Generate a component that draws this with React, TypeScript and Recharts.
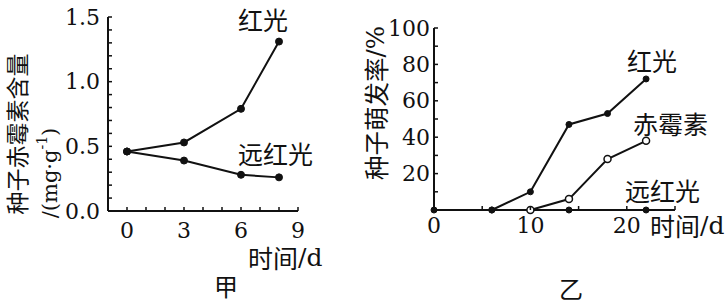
import React from "react";
import { LineChart, Line, XAxis, YAxis } from "recharts";

const NUM_FONT = '"DejaVu Serif", "Liberation Serif", serif';
const CJK_FONT = '"Noto Sans CJK SC", "Noto Sans", sans-serif';

// 甲: seed gibberellin content (mg/g) vs time (d)
const jiaRed = [
  { day: 0, v: 0.46 },
  { day: 3, v: 0.53 },
  { day: 6, v: 0.79 },
  { day: 8, v: 1.31 },
];
const jiaFarRed = [
  { day: 0, v: 0.46 },
  { day: 3, v: 0.39 },
  { day: 6, v: 0.28 },
  { day: 8, v: 0.26 },
];
const jiaXTicks = [0, 1, 2, 3, 4, 5, 6, 7, 8, 9];
const jiaXLabels = [0, 3, 6, 9];
const jiaYTicks = [0, 0.1, 0.2, 0.3, 0.4, 0.5, 0.6, 0.7, 0.8, 0.9, 1.0, 1.1, 1.2, 1.3, 1.4, 1.5];
const jiaYLabels = [0, 0.5, 1.0, 1.5];

// 乙: germination rate (%) vs time (d)
const yiRed = [
  { day: 6, v: 0 },
  { day: 10, v: 10 },
  { day: 14, v: 47 },
  { day: 18, v: 53 },
  { day: 22, v: 72 },
];
const yiGibberellin = [
  { day: 10, v: 0 },
  { day: 14, v: 6 },
  { day: 18, v: 28 },
  { day: 22, v: 38 },
];
const yiFarRed = [
  { day: 0, v: 0 },
  { day: 6, v: 0 },
  { day: 14, v: 0 },
  { day: 22, v: 0 },
];
const yiXTicks = [0, 5, 10, 15, 20, 25];
const yiXLabels = [0, 10, 20];
const yiYTicks = [0, 10, 20, 30, 40, 50, 60, 70, 80, 90, 100];
const yiYLabels = [20, 40, 60, 80, 100];

const near = (list: number[], v: number) => list.some((x) => Math.abs(x - v) < 1e-6);

function makeXTick(labels: number[], dy: number) {
  return (props: any) => {
    const { x, y, payload } = props;
    const v = payload.value;
    return (
      <g>
        <line x1={x} y1={y} x2={x} y2={y - 4} stroke="#111" strokeWidth={1.5} />
        {near(labels, v) && (
          <text x={x} y={y + dy} textAnchor="middle" dominantBaseline="central" fontFamily={NUM_FONT} fontSize={22} fill="#111">
            {v}
          </text>
        )}
      </g>
    );
  };
}

function makeYTick(labels: number[], gap: number, fmt: (v: number) => string) {
  return (props: any) => {
    const { x, y, payload } = props;
    const v = payload.value;
    return (
      <g>
        <line x1={x} y1={y} x2={x + 4} y2={y} stroke="#111" strokeWidth={1.5} />
        {near(labels, v) && (
          <text x={x - gap} y={y} textAnchor="end" dominantBaseline="central" fontFamily={NUM_FONT} fontSize={22} fill="#111">
            {fmt(v)}
          </text>
        )}
      </g>
    );
  };
}

const filledDot = (r: number) => ({ r, fill: "#111", stroke: "#111", strokeWidth: 1 });
const openDot = { r: 3.5, fill: "#fff", stroke: "#111", strokeWidth: 1.5 };
const axisLine = { stroke: "#111", strokeWidth: 2 };

function Cjk({ x, y, children, size = 25 }: { x: number; y: number; children: React.ReactNode; size?: number }) {
  return (
    <text x={x} y={y} dominantBaseline="central" fontFamily={CJK_FONT} fontSize={size} fill="#111">
      {children}
    </text>
  );
}

export default function App() {
  return (
    <div style={{ position: "fixed", left: 0, top: 0, width: 727, height: 303, background: "#fff" }}>
      <div style={{ position: "absolute", left: 0, top: 0 }}>
        <LineChart width={330} height={303} margin={{ top: 17, right: 32, bottom: 62, left: 0 }}>
          <XAxis
            type="number"
            dataKey="day"
            domain={[-1, 9]}
            ticks={jiaXTicks}
            allowDataOverflow
            height={30}
            tickSize={0}
            tickMargin={0}
            axisLine={axisLine}
            tickLine={false}
            tick={makeXTick(jiaXLabels, 19)}
            interval={0}
          />
          <YAxis
            type="number"
            dataKey="v"
            domain={[0, 1.5]}
            ticks={jiaYTicks}
            width={108}
            tickSize={0}
            tickMargin={0}
            axisLine={axisLine}
            tickLine={false}
            tick={makeYTick(jiaYLabels, 8, (v) => v.toFixed(1))}
            interval={0}
          />
          <Line data={jiaFarRed} dataKey="v" stroke="#111" strokeWidth={2} dot={filledDot(3.5)} isAnimationActive={false} />
          <Line data={jiaRed} dataKey="v" stroke="#111" strokeWidth={2} dot={filledDot(3.5)} isAnimationActive={false} />
        </LineChart>
      </div>
      <div style={{ position: "absolute", left: 360, top: 0 }}>
        <LineChart width={367} height={303} margin={{ top: 28, right: 52, bottom: 63, left: 0 }}>
          <XAxis
            type="number"
            dataKey="day"
            domain={[0, 25]}
            ticks={yiXTicks}
            height={30}
            tickSize={0}
            tickMargin={0}
            axisLine={axisLine}
            tickLine={false}
            tick={makeXTick(yiXLabels, 15)}
            interval={0}
          />
          <YAxis
            type="number"
            dataKey="v"
            domain={[0, 100]}
            ticks={yiYTicks}
            width={74}
            tickSize={0}
            tickMargin={0}
            axisLine={axisLine}
            tickLine={false}
            tick={makeYTick(yiYLabels, 4, (v) => String(v))}
            interval={0}
          />
          <Line data={yiFarRed} dataKey="v" stroke="#111" strokeWidth={2} dot={filledDot(3)} isAnimationActive={false} />
          <Line data={yiRed} dataKey="v" stroke="#111" strokeWidth={2} dot={filledDot(3)} isAnimationActive={false} />
          <Line data={yiGibberellin} dataKey="v" stroke="#111" strokeWidth={2} dot={openDot} isAnimationActive={false} />
        </LineChart>
      </div>
      <svg width={727} height={303} style={{ position: "absolute", left: 0, top: 0, pointerEvents: "none" }}>
        {/* 甲 */}
        <Cjk x={238} y={19}>红光</Cjk>
        <Cjk x={238} y={153}>远红光</Cjk>
        <text x={248} y={257} dominantBaseline="central" fill="#111" fontSize={25}>
          <tspan fontFamily={CJK_FONT}>时间</tspan>
          <tspan fontFamily={NUM_FONT}>/d</tspan>
        </text>
        <Cjk x={214} y={285} size={24}>甲</Cjk>
        <text transform="translate(16,134) rotate(-90)" textAnchor="middle" dominantBaseline="central" fontFamily={CJK_FONT} fontSize={23} fill="#111">
          种子赤霉素含量
        </text>
        <text transform="translate(50,173) rotate(-90)" textAnchor="middle" dominantBaseline="central" fontFamily={NUM_FONT} fontSize={21} fill="#111">
          /(mg·g<tspan fontSize={14} dy={-8}>-1</tspan>
          <tspan dy={8}>)</tspan>
        </text>
        {/* 乙 */}
        <Cjk x={627} y={60}>红光</Cjk>
        <Cjk x={633} y={123}>赤霉素</Cjk>
        <Cjk x={625} y={190}>远红光</Cjk>
        <text x={650} y={225} dominantBaseline="central" fill="#111" fontSize={25}>
          <tspan fontFamily={CJK_FONT}>时间</tspan>
          <tspan fontFamily={NUM_FONT}>/d</tspan>
        </text>
        <Cjk x={559} y={287} size={24}>乙</Cjk>
        <text transform="translate(375,103) rotate(-90)" textAnchor="middle" dominantBaseline="central" fill="#111" fontSize={24.5}>
          <tspan fontFamily={CJK_FONT}>种子萌发率</tspan>
          <tspan fontFamily={NUM_FONT}>/%</tspan>
        </text>
      </svg>
    </div>
  );
}
